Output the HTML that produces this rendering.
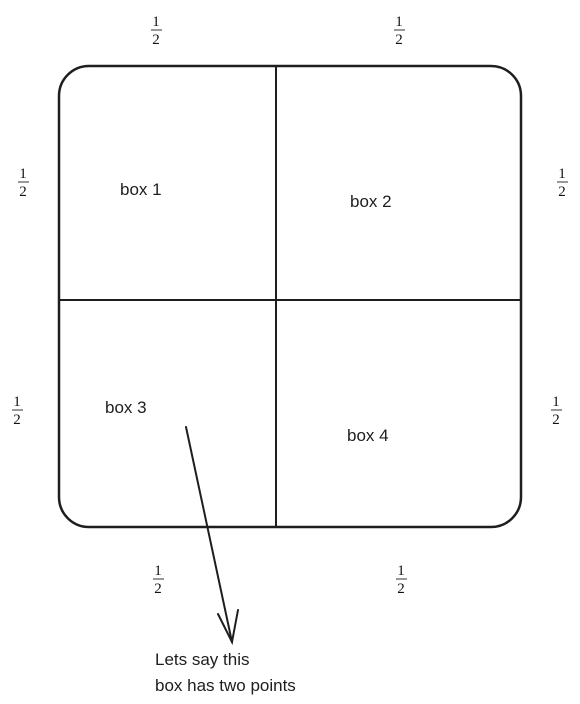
<!DOCTYPE html>
<html><head><meta charset="utf-8"><style>
html,body{margin:0;padding:0;background:#fff;}
svg{display:block}
.f{font-family:"Liberation Serif",serif;font-size:15px;fill:#111;text-anchor:middle}
.h{font-family:"Liberation Sans",sans-serif;font-size:17px;fill:#1e1e1e}
</style></head><body>
<svg width="580" height="704" viewBox="0 0 580 704">
<rect x="59" y="66" width="462" height="461" rx="30" fill="none" stroke="#1e1e1e" stroke-width="2.5"/>
<line x1="276" y1="67" x2="276" y2="527" stroke="#1e1e1e" stroke-width="2"/>
<line x1="58" y1="300" x2="521" y2="300" stroke="#1e1e1e" stroke-width="2"/>
<g>
<g><text class="f" x="156" y="26">1</text><line x1="151" y1="30" x2="162" y2="30" stroke="#333"/><text class="f" x="156" y="44">2</text></g>
<g><text class="f" x="399" y="26">1</text><line x1="394" y1="30" x2="405" y2="30" stroke="#333"/><text class="f" x="399" y="44">2</text></g>
<g><text class="f" x="23" y="178">1</text><line x1="18" y1="182" x2="29" y2="182" stroke="#333"/><text class="f" x="23" y="196">2</text></g>
<g><text class="f" x="562" y="178">1</text><line x1="557" y1="182" x2="568" y2="182" stroke="#333"/><text class="f" x="562" y="196">2</text></g>
<g><text class="f" x="17" y="406">1</text><line x1="12" y1="410" x2="23" y2="410" stroke="#333"/><text class="f" x="17" y="424">2</text></g>
<g><text class="f" x="556" y="406">1</text><line x1="551" y1="410" x2="562" y2="410" stroke="#333"/><text class="f" x="556" y="424">2</text></g>
<g><text class="f" x="158" y="575">1</text><line x1="153" y1="579" x2="164" y2="579" stroke="#333"/><text class="f" x="158" y="593">2</text></g>
<g><text class="f" x="401" y="575">1</text><line x1="396" y1="579" x2="407" y2="579" stroke="#333"/><text class="f" x="401" y="593">2</text></g>
</g>
<text class="h" x="120" y="195">box 1</text>
<text class="h" x="350" y="207">box 2</text>
<text class="h" x="105" y="413">box 3</text>
<text class="h" x="347" y="441">box 4</text>
<g stroke="#1e1e1e" stroke-width="2" fill="none" stroke-linecap="round">
<line x1="186" y1="427" x2="232" y2="642"/>
<polyline points="218,614 232,642 238,610"/>
</g>
<text class="h" x="155" y="665">Lets say this</text>
<text class="h" x="155" y="691">box has two points</text>
</svg>
</body></html>
